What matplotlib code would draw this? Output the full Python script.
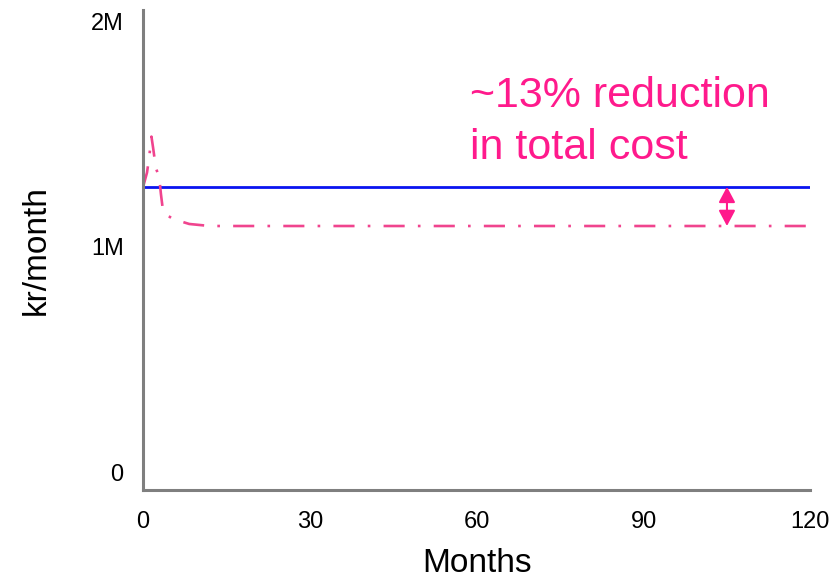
import numpy as np
import matplotlib.pyplot as plt

plt.rcParams['font.family'] = ['Liberation Sans', 'DejaVu Sans']

# baseline cost (flat) and new cost curve, kr/month
BASE_MONTHS = [0, 120]
BASE_COST = [1.267e6, 1.267e6]

NEW_MONTHS = [0, 0.7, 1.1, 1.5, 1.8, 2.3, 2.9, 3.2, 3.6, 4.5, 5.4, 8.3, 12, 120]
NEW_COST = [1.267e6, 1.33e6, 1.40e6, 1.49e6, 1.44e6, 1.35e6, 1.31e6, 1.236e6,
            1.156e6, 1.138e6, 1.124e6, 1.102e6, 1.093e6, 1.093e6]

X_TICKS = [0, 30, 60, 90, 120]
Y_TICKS = [0, 1e6, 2e6]
Y_LABELS = ["0", "1M", "2M"]

ARROW_MONTH = 105
PINK = "#FF1A8C"

fig = plt.figure(figsize=(8.32, 5.8), dpi=100)
ax = fig.add_axes([0.172, 0.155, 0.802, 0.828])

ax.plot(BASE_MONTHS, BASE_COST, color="#0A14F0", lw=2.0)
ax.plot(NEW_MONTHS, NEW_COST, color="#F0448E", lw=1.9, dashes=(8, 5, 1, 5))

ax.annotate("", xy=(ARROW_MONTH, NEW_COST[-1]), xytext=(ARROW_MONTH, BASE_COST[0]),
            arrowprops=dict(arrowstyle="<|-|>,head_length=0.47,head_width=0.25",
                            color=PINK, lw=1.5, mutation_scale=20,
                            shrinkA=0, shrinkB=0))

ax.text(58.8, 1.555e6, "~13% reduction\nin total cost", color=PINK, fontsize=31,
        ha="left", va="center", linespacing=1.38)

ax.set_xlim(0, 120)
ax.set_ylim(-0.08e6, 2.053e6)
ax.set_xticks(X_TICKS)
ax.set_yticks(Y_TICKS)
ax.set_yticklabels(Y_LABELS)
ax.tick_params(axis="both", length=0, labelsize=17)
ax.tick_params(axis="x", pad=15)
ax.tick_params(axis="y", pad=14)

for s in ["top", "right"]:
    ax.spines[s].set_visible(False)
for s in ["left", "bottom"]:
    ax.spines[s].set_color("#7F7F7F")
    ax.spines[s].set_linewidth(2.2)

ax.set_xlabel("Months", fontsize=24, labelpad=11)
ax.set_ylabel("kr/month", fontsize=24, labelpad=28)

fig.savefig("out.png", dpi=100)
